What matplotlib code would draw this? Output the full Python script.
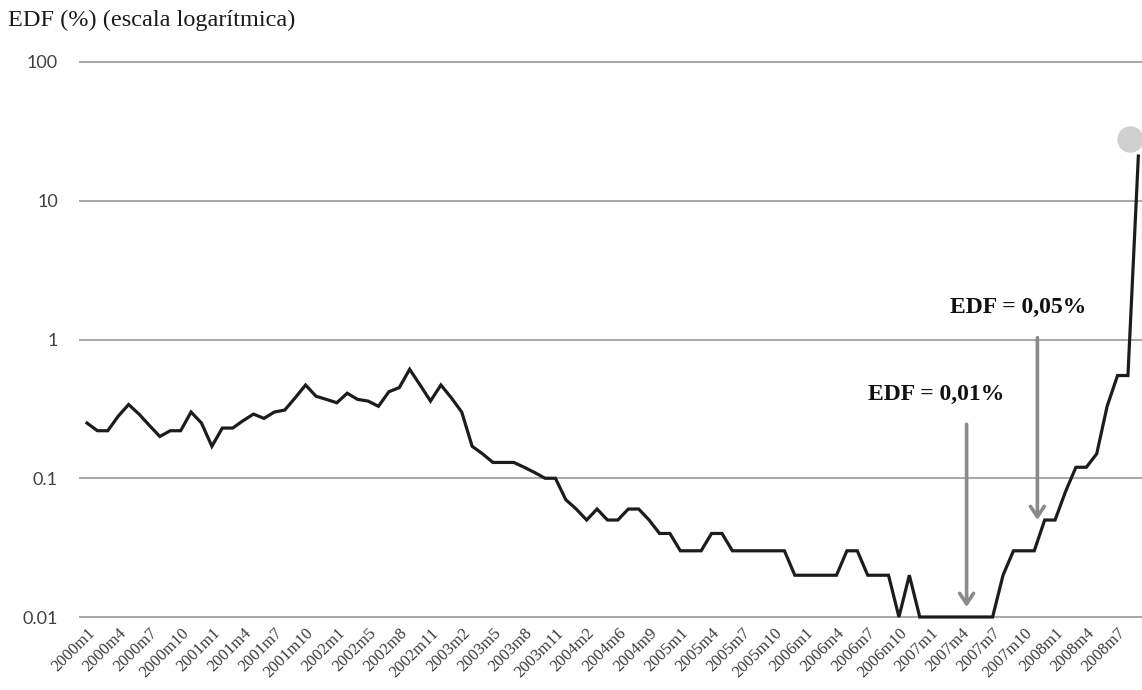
import matplotlib
matplotlib.use("Agg")
import matplotlib.pyplot as plt
from matplotlib import transforms
from matplotlib.ticker import NullLocator

# Monthly EDF series (%), one label every third observation
tick_labels = [
    "2000m1", "2000m4", "2000m7", "2000m10", "2001m1", "2001m4", "2001m7",
    "2001m10", "2002m1", "2002m5", "2002m8", "2002m11", "2003m2", "2003m5",
    "2003m8", "2003m11", "2004m2", "2004m6", "2004m9", "2005m1", "2005m4",
    "2005m7", "2005m10", "2006m1", "2006m4", "2006m7", "2006m10", "2007m1",
    "2007m4", "2007m7", "2007m10", "2008m1", "2008m4", "2008m7",
]
edf = [
    0.25, 0.22, 0.22, 0.28, 0.34, 0.29, 0.24, 0.20, 0.22, 0.22,
    0.30, 0.25, 0.17, 0.23, 0.23, 0.26, 0.29, 0.27, 0.30, 0.31,
    0.38, 0.47, 0.39, 0.37, 0.35, 0.41, 0.37, 0.36, 0.33, 0.42,
    0.45, 0.61, 0.47, 0.36, 0.47, 0.38, 0.30, 0.17, 0.15, 0.13,
    0.13, 0.13, 0.12, 0.11, 0.10, 0.10, 0.07, 0.06, 0.05, 0.06,
    0.05, 0.05, 0.06, 0.06, 0.05, 0.04, 0.04, 0.03, 0.03, 0.03,
    0.04, 0.04, 0.03, 0.03, 0.03, 0.03, 0.03, 0.03, 0.02, 0.02,
    0.02, 0.02, 0.02, 0.03, 0.03, 0.02, 0.02, 0.02, 0.01, 0.02,
    0.01, 0.01, 0.01, 0.01, 0.01, 0.01, 0.01, 0.01, 0.02, 0.03,
    0.03, 0.03, 0.05, 0.05, 0.08, 0.12, 0.12, 0.15, 0.33, 0.55,
    0.55, 21.0,
]
y_ticks = [0.01, 0.1, 1, 10, 100]
y_tick_labels = ["0.01", "0.1", "1", "10", "100"]

# callouts: text, text anchor (x, y), arrow start / end (x, y)
callout_text = ["EDF = 0,01%", "EDF = 0,05%"]
callout_text_xy = [(81.6, 0.40), (89.5, 1.7)]
callout_arrow_from = [(84.5, 0.245), (91.3, 1.03)]
callout_arrow_to = [(84.5, 0.0118), (91.3, 0.05)]
marker_value = 28.0

fig = plt.figure(figsize=(11.42, 6.90), dpi=100)
ax = fig.add_axes([80 / 1142, 1 - 617 / 690, 1 - 80 / 1142, (617 - 62) / 690])

x = list(range(len(edf)))
ax.plot(x, edf, color="#1c1c1c", lw=2.3, clip_on=False, zorder=3,
        solid_joinstyle="miter")

# grey highlight dot at the end of the series
shifted = transforms.offset_copy(ax.transData, fig=fig, x=-8, y=0, units="dots")
ax.plot([x[-1]], [marker_value], "o", ms=18, color="#cfcfcf",
        transform=shifted, clip_on=False, zorder=2)

ax.set_yscale("log")
ax.set_ylim(y_ticks[0], y_ticks[-1])
ax.set_xlim(-0.67, 101.35)
ax.set_yticks(y_ticks)
ax.set_yticklabels(y_tick_labels)
ax.yaxis.set_minor_locator(NullLocator())
ax.set_xticks(x[::3])
ax.set_xticklabels(tick_labels, rotation=45, ha="right", va="top",
                   rotation_mode="anchor", family="Liberation Serif",
                   fontsize=12, color="#3a3a3a")
ax.tick_params(axis="both", length=0)
ax.tick_params(axis="y", pad=16, labelsize=13, labelcolor="#404040")
ax.tick_params(axis="x", pad=6)
for lbl in ax.get_yticklabels():
    lbl.set_family("Lato")

for s in ax.spines.values():
    s.set_visible(False)
ax.grid(axis="y", color="#a8a8a8", lw=1.4)
for gl in ax.get_ygridlines():
    gl.set_clip_on(False)
ax.set_axisbelow(True)

for txt, txy, a0, a1 in zip(callout_text, callout_text_xy,
                            callout_arrow_from, callout_arrow_to):
    ax.text(txy[0], txy[1], txt, ha="center", va="center",
            family="Liberation Serif", weight="bold", fontsize=17, color="#111111")
    ax.annotate("", xy=a1, xytext=a0,
                arrowprops=dict(arrowstyle="->,head_length=0.75,head_width=0.5",
                                color="#8a8a8a", lw=2.6, shrinkA=0, shrinkB=0))

fig.text(8 / 1142, 1 - 20 / 690, "EDF (%) (escala logarítmica)",
         family="Liberation Serif", fontsize=17.5, color="#1a1a1a",
         ha="left", va="center")

fig.savefig("out.png", dpi=100, facecolor="white")
